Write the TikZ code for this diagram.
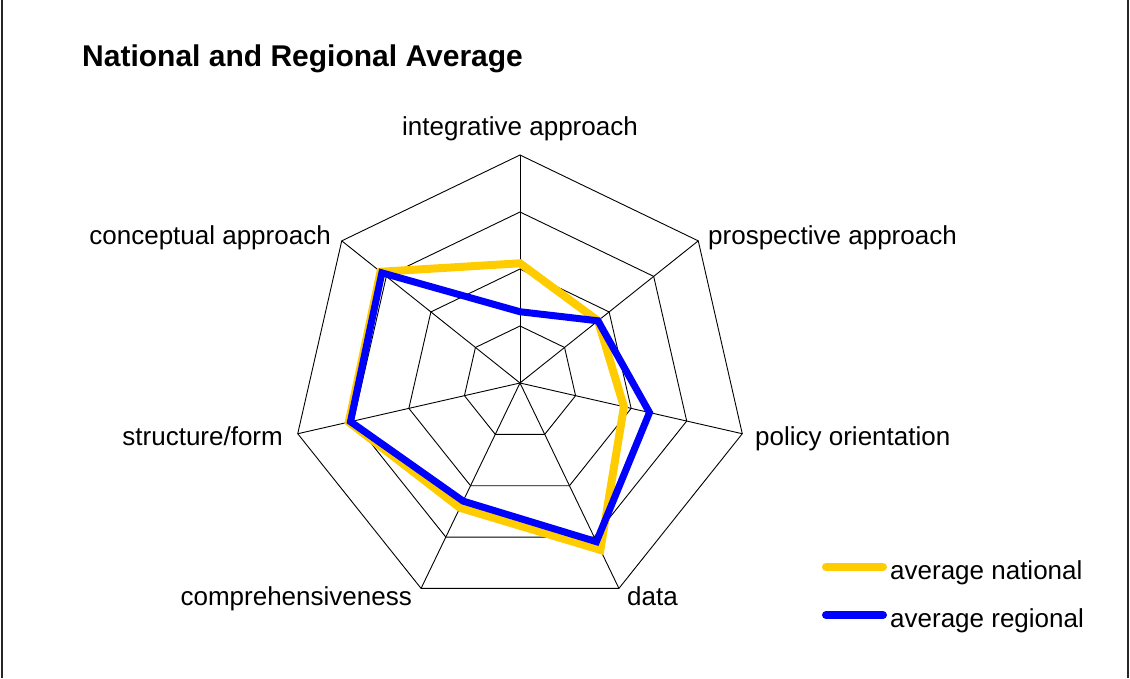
\documentclass[tikz,border=0pt]{standalone}
\usepackage{fontspec}
\setmainfont{Liberation Sans}
\definecolor{natyellow}{RGB}{255,204,0}
\definecolor{regblue}{RGB}{0,0,255}

\begin{document}
\begin{tikzpicture}
[x=1pt,y=1pt,every node/.style={inner sep=0pt,font=\fontsize{26}{30}\selectfont},
 grid/.style={black,line width=0.9pt},
 national/.style={natyellow,line width=8pt},
 regional/.style={regblue,line width=7pt}]
\useasboundingbox (0,0) rectangle (1130,678);
\draw[line width=1.6pt,black!85] (2,0) -- (2,678);
\draw[line width=1.6pt,black!85] (1128,0) -- (1128,678);
\node[anchor=base west,font=\bfseries\fontsize{30}{34}\selectfont] (title) at (82,611) {National and Regional Average};
\begin{scope}[shift={(520,295)}]
\coordinate (c) at (0,0);
\foreach \k in {0,...,6}
\coordinate (v\k) at ({90-\k*360/7}:228);
\foreach \r in {57,114,171,228}
\draw[grid] (90:\r) \foreach \k in {1,...,6} {-- ({90-\k*360/7}:\r)} -- cycle;
\foreach \k in {0,...,6}
\draw[grid] (c) -- (v\k);
\foreach \k/\v in {0/2.1,1/1.75,2/1.87,3/3.25,4/2.43,5/3.08,6/3.13}
\coordinate (nat\k) at ({90-\k*360/7}:\v*57);
\foreach \k/\v in {0/1.25,1/1.75,2/2.33,3/3.09,4/2.3,5/3.05,6/3.1}
\coordinate (reg\k) at ({90-\k*360/7}:\v*57);
\end{scope}
\draw[national] (nat0) -- (nat1) -- (nat2) -- (nat3) -- (nat4) -- (nat5) -- (nat6) -- cycle;
\draw[regional] (reg0) -- (reg1) -- (reg2) -- (reg3) -- (reg4) -- (reg5) -- (reg6) -- cycle;
% axis labels
\node[anchor=base] (integ) at (520,542) {integrative approach};
\node[anchor=base west] (prosp) at (708,433) {prospective approach};
\node[anchor=base west] (policy) at (755,232) {policy orientation};
\node[anchor=base west] (data) at (627,73) {data};
\node[anchor=base east] (compr) at (412,73) {comprehensiveness};
\node[anchor=base east] (struct) at (283,232) {structure/form};
\node[anchor=base east] (concept) at (331,433) {conceptual approach};
% legend
\coordinate (lnat1) at (826,111);
\coordinate (lnat2) at (883,111);
\coordinate (lreg1) at (826,63);
\coordinate (lreg2) at (883,63);
\draw[national,line cap=round] (lnat1) -- (lnat2);
\draw[regional,line width=8pt,line cap=round] (lreg1) -- (lreg2);
\node[anchor=base west] (tnat) at (890,99) {average national};
\node[anchor=base west] (treg) at (890,51) {average regional};
\end{tikzpicture}
\end{document}
